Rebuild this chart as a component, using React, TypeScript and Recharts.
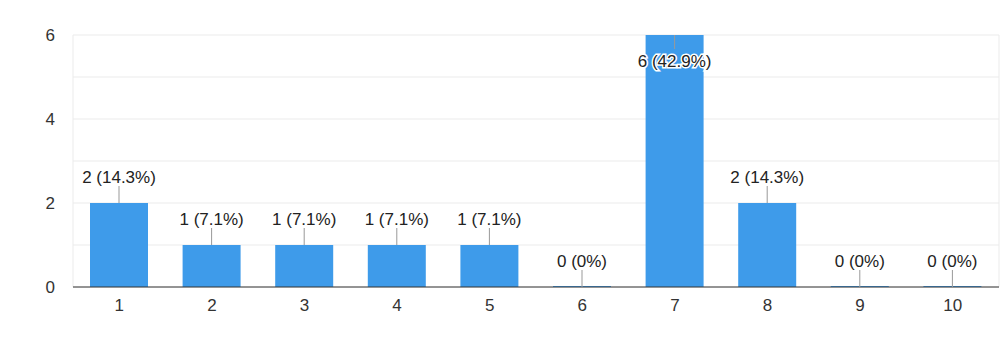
import { Bar, BarChart, CartesianGrid, LabelList, XAxis, YAxis } from 'recharts';

const categories = ['1', '2', '3', '4', '5', '6', '7', '8', '9', '10'];
const counts = [2, 1, 1, 1, 1, 0, 6, 2, 0, 0];
const yTicks = [0, 1, 2, 3, 4, 5, 6];
const yLabelled = [0, 2, 4, 6];

const total = counts.reduce((a, b) => a + b, 0);
const data = categories.map((name, i) => ({ name, value: counts[i] }));

const FONT = '"Liberation Sans", Arial, sans-serif';
const BAR = '#3e9bea';

function pct(v: number) {
  if (v === 0) return '0%';
  return `${((v / total) * 100).toFixed(1)}%`;
}

// annotation façon Google Forms : trait vertical + texte au-dessus (ou dedans si pas de place)
function Annotation(props: any) {
  const { x, y, width, height, value } = props;
  const cx = Number(x) + Number(width) / 2;
  const v = Number(value);
  // barre de valeur nulle : on part de la ligne de base
  const top = v === 0 ? Number(y) + Number(height) : Number(y);
  const text = `${v} (${pct(v)})`;
  const inside = top < 70;
  if (inside) {
    return (
      <g>
        <line x1={cx} x2={cx} y1={top} y2={top + 14} stroke="#999" strokeWidth={1} />
        <text
          x={cx}
          y={top + 32}
          textAnchor="middle"
          fontFamily={FONT}
          fontSize={17}
          fill="#222"
          stroke="#fff"
          strokeWidth={3}
          paintOrder="stroke"
        >
          {text}
        </text>
      </g>
    );
  }
  return (
    <g>
      <line x1={cx} x2={cx} y1={top - 17} y2={top} stroke="#999" strokeWidth={1} />
      <text x={cx} y={top - 20} textAnchor="middle" fontFamily={FONT} fontSize={17} fill="#222">
        {text}
      </text>
    </g>
  );
}

export default function App() {
  return (
    <div style={{ position: 'absolute', left: 0, top: 0, background: '#fff' }}>
      <BarChart
        width={1000}
        height={345}
        data={data}
        margin={{ top: 35, right: 1, left: 0, bottom: 28 }}
      >
        <CartesianGrid
          stroke="#ebebeb"
          verticalCoordinatesGenerator={({ offset }: any) => [
            offset.left,
            offset.left + offset.width,
          ]}
        />
        <XAxis
          dataKey="name"
          height={30}
          tickLine={false}
          axisLine={{ stroke: '#333', strokeWidth: 1 }}
          tickMargin={6}
          tick={{ fill: '#333', fontSize: 17, fontFamily: FONT }}
        />
        <YAxis
          width={73}
          domain={[0, 6]}
          ticks={yTicks}
          interval={0}
          tickLine={false}
          axisLine={false}
          tickMargin={12}
          tickFormatter={(v: number) => (yLabelled.includes(v) ? String(v) : '')}
          tick={{ fill: '#333', fontSize: 17, fontFamily: FONT }}
        />
        <Bar
          dataKey="value"
          fill={BAR}
          barSize={58}
          minPointSize={1}
          isAnimationActive={false}
        >
          <LabelList dataKey="value" content={<Annotation />} />
        </Bar>
      </BarChart>
    </div>
  );
}
